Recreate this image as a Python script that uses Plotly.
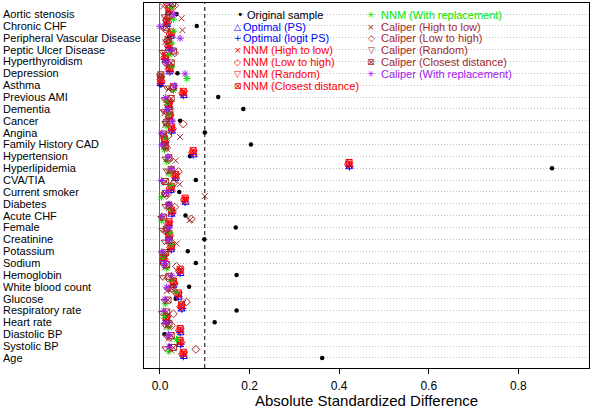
import numpy as np
import plotly.graph_objects as go

variables = ["Aortic stenosis", "Chronic CHF", "Peripheral Vascular Disease", "Peptic Ulcer Disease",
             "Hyperthyroidism", "Depression", "Asthma", "Previous AMI", "Dementia", "Cancer", "Angina",
             "Family History CAD", "Hypertension", "Hyperlipidemia", "CVA/TIA", "Current smoker",
             "Diabetes", "Acute CHF", "Female", "Creatinine", "Potassium", "Sodium", "Hemoglobin",
             "White blood count", "Glucose", "Respiratory rate", "Heart rate", "Diastolic BP",
             "Systolic BP", "Age"]

original = [0.037, 0.082, 0.020, 0.024, 0.015, 0.039, 0.002, 0.130, 0.186, 0.045, 0.100, 0.203, 0.067, 0.875, 0.080,
            0.043, 0.020, 0.057, 0.169, 0.099, 0.062, 0.080, 0.171, 0.065, 0.035, 0.171, 0.122, 0.010, 0.022, 0.362]
opt_ps = [0.020, 0.016, 0.024, 0.019, 0.012, 0.021, 0.001, 0.053, 0.019, 0.022, 0.027, 0.010, 0.075, 0.422, 0.034,
          0.024, 0.057, 0.026, 0.019, 0.021, 0.024, 0.008, 0.046, 0.030, 0.042, 0.048, 0.014, 0.046, 0.045, 0.053]
opt_logit = [0.021, 0.015, 0.025, 0.020, 0.011, 0.022, 0.002, 0.052, 0.020, 0.021, 0.026, 0.011, 0.074, 0.423, 0.035,
             0.025, 0.056, 0.027, 0.020, 0.020, 0.025, 0.009, 0.045, 0.031, 0.041, 0.049, 0.015, 0.045, 0.046, 0.052]
nnm_high = [0.018, 0.012, 0.028, 0.022, 0.014, 0.025, 0.000, 0.055, 0.022, 0.025, 0.024, 0.008, 0.077, 0.425, 0.037,
            0.028, 0.058, 0.024, 0.022, 0.018, 0.027, 0.006, 0.047, 0.028, 0.043, 0.050, 0.017, 0.047, 0.043, 0.055]
nnm_low = [0.022, 0.018, 0.022, 0.018, 0.010, 0.020, 0.003, 0.050, 0.018, 0.020, 0.028, 0.012, 0.072, 0.420, 0.033,
           0.022, 0.054, 0.028, 0.018, 0.022, 0.023, 0.010, 0.043, 0.032, 0.039, 0.046, 0.013, 0.043, 0.047, 0.050]
nnm_random = [0.019, 0.014, 0.026, 0.021, 0.013, 0.023, 0.001, 0.053, 0.021, 0.023, 0.025, 0.009, 0.075, 0.421, 0.036,
              0.026, 0.057, 0.025, 0.021, 0.019, 0.026, 0.007, 0.046, 0.029, 0.042, 0.049, 0.016, 0.046, 0.044, 0.053]
nnm_closest = [0.020, 0.015, 0.025, 0.020, 0.012, 0.022, 0.002, 0.052, 0.020, 0.022, 0.026, 0.010, 0.074, 0.422, 0.035,
               0.025, 0.056, 0.026, 0.020, 0.020, 0.025, 0.008, 0.045, 0.030, 0.041, 0.048, 0.015, 0.045, 0.045, 0.052]
nnm_wr = [0.025, 0.030, 0.030, 0.026, 0.022, 0.026, 0.060, 0.030, 0.015, 0.020, 0.015, 0.012, 0.010, 0.015, 0.020,
          0.025, 0.003, 0.022, 0.004, 0.022, 0.025, 0.006, 0.015, 0.026, 0.035, 0.012, 0.010, 0.018, 0.037, 0.020]
cal_high = [0.007, 0.048, 0.050, 0.012, 0.010, 0.018, 0.003, 0.019, 0.020, 0.010, 0.012, 0.045, 0.015, 0.035, 0.020,
            0.044, 0.100, 0.020, 0.067, 0.015, 0.037, 0.010, 0.012, 0.030, 0.015, 0.052, 0.018, 0.015, 0.020, 0.025]
cal_low = [0.033, 0.018, 0.012, 0.015, 0.033, 0.020, 0.002, 0.028, 0.018, 0.015, 0.052, 0.018, 0.015, 0.020, 0.041,
           0.030, 0.015, 0.033, 0.070, 0.012, 0.026, 0.012, 0.037, 0.018, 0.030, 0.059, 0.030, 0.026, 0.022, 0.080]
cal_random = [0.015, 0.010, 0.008, 0.020, 0.005, 0.012, 0.000, 0.015, 0.010, 0.008, 0.012, 0.005, 0.010, 0.012, 0.015,
              0.008, 0.010, 0.012, 0.003, 0.005, 0.010, 0.005, 0.008, 0.006, 0.020, 0.010, 0.004, 0.010, 0.015, 0.012]
cal_closest = [0.028, 0.020, 0.015, 0.018, 0.030, 0.025, 0.002, 0.030, 0.025, 0.022, 0.015, 0.008, 0.012, 0.020, 0.025,
               0.012, 0.012, 0.020, 0.008, 0.015, 0.020, 0.012, 0.015, 0.020, 0.025, 0.018, 0.015, 0.020, 0.025, 0.030]
cal_wr = [0.022, 0.032, 0.000, 0.045, 0.026, 0.015, 0.056, 0.033, 0.012, 0.015, 0.028, 0.004, 0.004, 0.018, 0.026,
          0.003, 0.015, 0.020, 0.004, 0.020, 0.018, 0.004, 0.010, 0.026, 0.015, 0.011, 0.008, 0.012, 0.019, 0.020]

methods = ["Original sample", "Optimal (PS)", "Optimal (logit PS)", "NNM (High to low)", "NNM (Low to high)",
           "NNM (Random)", "NNM (Closest distance)", "NNM (With replacement)", "Caliper (High to low)",
           "Caliper (Low to high)", "Caliper (Random)", "Caliper (Closest distance)", "Caliper (With replacement)"]
series = [original, opt_ps, opt_logit, nnm_high, nnm_low, nnm_random, nnm_closest, nnm_wr,
          cal_high, cal_low, cal_random, cal_closest, cal_wr]
xticks = [0, 0.2, 0.4, 0.6, 0.8]

BLUE, RED, GREEN, BROWN, PURPLE = "#0000FF", "#FF0000", "#00E600", "#A52A2A", "#A020F0"
colors = ["black", BLUE, BLUE, RED, RED, RED, RED, GREEN, BROWN, BROWN, BROWN, BROWN, PURPLE]
symbols = ["circle", "triangle-up-open", "cross-thin-open", "x-thin-open", "diamond-open", "triangle-down-open",
           "square-x-open", "asterisk-open", "x-thin-open", "diamond-open", "triangle-down-open",
           "square-x-open", "asterisk-open"]
glyphs = ["•", "△", "+", "×", "◇", "▽", "⊠", "✳", "×", "◇", "▽", "⊠", "✳"]

n = len(variables)
rows = np.arange(n, 0, -1)  # top row is highest
DODGE = 0.08  # vertical dodge between methods (fraction of a row)

fig = go.Figure()
for k, (name, vals) in enumerate(zip(methods, series)):
    if k == 0:
        marker = dict(symbol="circle", size=4.5, color="black", line=dict(width=0))
    else:
        marker = dict(symbol=symbols[k], size=6, color=colors[k], line=dict(width=1, color=colors[k]))
    fig.add_trace(go.Scatter(x=vals, y=rows + k * DODGE, mode="markers", name=name,
                             marker=marker, showlegend=False, hoverinfo="x+name"))

L, R, T, B = 144, 1, 3, 40
W, H = 590, 408
pw, ph = W - L - R, H - T - B


def px_x(px):
    return (px - L) / pw


def px_y(py):
    return (H - B - py) / ph


# y labels: left aligned at figure edge
annotations = [dict(text=v, x=px_x(1), y=rows[j], xref="paper", yref="y", xanchor="left", yanchor="middle",
                    showarrow=False, font=dict(size=11, color="black"))
               for j, v in enumerate(variables)]

# legend as two text columns
for k, name in enumerate(methods):
    if k < 7:
        r = k
        sx, tx = (240, 245) if k == 0 else (237.5, 241)
    else:
        r = k - 7
        sx, tx = 371, 379
    yy = px_y(15 + r * 11.75)
    gsize = 11 if k == 0 else 9
    annotations.append(dict(text=glyphs[k], x=px_x(sx), y=yy, xref="paper", yref="paper", xanchor="center",
                            yanchor="middle", showarrow=False, font=dict(size=gsize, color=colors[k],
                                                                          family="DejaVu Sans")))
    annotations.append(dict(text=name, x=px_x(tx), y=yy, xref="paper", yref="paper", xanchor="left",
                            yanchor="middle", showarrow=False, font=dict(size=11, color=colors[k])))

# x axis title
annotations.append(dict(text="Absolute Standardized Difference", x=0.5, y=px_y(400), xref="paper", yref="paper",
                        xanchor="center", yanchor="middle", showarrow=False, font=dict(size=15, color="black")))

fig.add_shape(type="line", x0=0.1, x1=0.1, y0=0, y1=1, xref="x", yref="paper",
              line=dict(color="black", width=1, dash="4px,3px"))

fig.update_layout(
    width=W, height=H, margin=dict(l=L, r=R, t=T, b=B),
    paper_bgcolor="white", plot_bgcolor="white",
    font=dict(family="Liberation Sans, Arial, sans-serif", color="black"),
    annotations=annotations, showlegend=False,
)
fig.update_xaxes(range=[-0.0357, 0.9576], tickvals=xticks, tickformat=".1f",
                 ticks="outside", ticklen=5, tickcolor="black", tickfont=dict(size=12), ticklabelstandoff=2,
                 showline=True, linecolor="black", linewidth=1, mirror=True, showgrid=False,
                 zeroline=True, zerolinecolor="#666666", zerolinewidth=1)
fig.update_yaxes(range=[0.15, 30.93], tickvals=list(rows), showticklabels=False, ticks="",
                 showline=True, linecolor="black", linewidth=1, mirror=True,
                 showgrid=True, gridcolor="#BDBDBD", griddash="1px,2px", gridwidth=1, zeroline=False)

fig.write_html("out.html", config={"displayModeBar": False},
               post_script="document.body.style.margin='0';document.body.style.overflow='hidden';")
